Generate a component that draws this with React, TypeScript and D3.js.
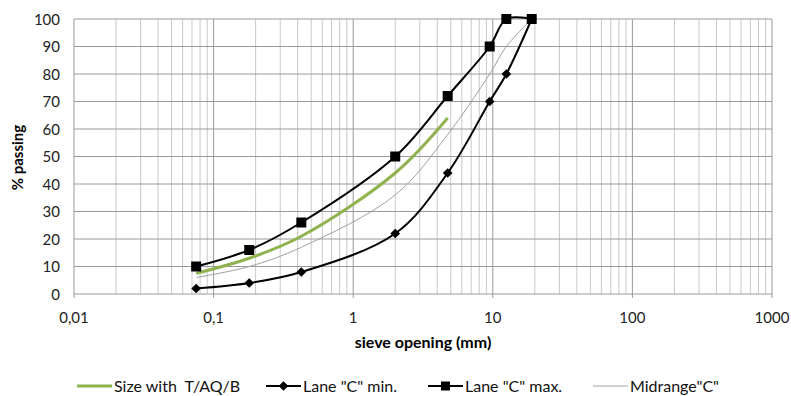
import React, { useEffect, useRef } from 'react';
import * as d3 from 'd3';

// sieve sizes (mm)
const sieves = [0.075, 0.18, 0.425, 2, 4.75, 9.5, 12.5, 19];
const laneMax = [10, 16, 26, 50, 72, 90, 100, 100];
const laneMin = [2, 4, 8, 22, 44, 70, 80, 100];
const midrange = [6, 10, 17, 36, 58, 80, 90, 100];
const sizeSieves = [0.075, 0.18, 0.425, 2, 4.75];
const sizeTAQB = [7.5, 13, 21, 44, 64];
const xTicks = [0.01, 0.1, 1, 10, 100, 1000];
const yTicks = [0, 10, 20, 30, 40, 50, 60, 70, 80, 90, 100];

const FONT = 'Lato, "Open Sans", sans-serif';

const App = () => {
  const ref = useRef<SVGSVGElement | null>(null);

  useEffect(() => {
    const width = 791;
    const height = 396;
    const left = 74, right = 772, top = 19, bottom = 294;
    const svg = d3.select(ref.current);
    svg.selectAll('*').remove();

    const x = d3.scaleLog().domain([0.01, 1000]).range([left, right]);
    const y = d3.scaleLinear().domain([0, 100]).range([bottom, top]);

    // minor vertical grid
    const minors: number[] = [];
    for (let e = -2; e < 3; e++) {
      for (let m = 2; m <= 9; m++) minors.push(m * Math.pow(10, e));
    }
    svg.append('g').selectAll('line').data(minors).enter().append('line')
      .attr('x1', d => x(d)).attr('x2', d => x(d))
      .attr('y1', top).attr('y2', bottom)
      .attr('stroke', '#c8c8c8').attr('stroke-width', 1);

    svg.append('g').selectAll('line').data(xTicks).enter().append('line')
      .attr('x1', d => x(d)).attr('x2', d => x(d))
      .attr('y1', top).attr('y2', bottom + 4)
      .attr('stroke', '#9a9a9a').attr('stroke-width', 1);

    svg.append('g').selectAll('line').data(yTicks).enter().append('line')
      .attr('x1', left).attr('x2', right)
      .attr('y1', d => y(d)).attr('y2', d => y(d))
      .attr('stroke', '#9a9a9a').attr('stroke-width', 1);

    // tick labels
    svg.append('g').selectAll('text').data(yTicks).enter().append('text')
      .attr('x', left - 14).attr('y', d => y(d) + 5.5)
      .attr('text-anchor', 'end')
      .style('font-family', FONT).style('font-size', '15px').attr('fill', '#222')
      .text(d => d);

    svg.append('g').selectAll('text').data(xTicks).enter().append('text')
      .attr('x', d => x(d)).attr('y', bottom + 29)
      .attr('text-anchor', 'middle')
      .style('font-family', FONT).style('font-size', '15px').attr('fill', '#222')
      .text(d => String(d).replace('.', ','));

    svg.append('text')
      .attr('x', 423).attr('y', 348)
      .attr('text-anchor', 'middle')
      .style('font-family', FONT).style('font-size', '16px').style('font-weight', 'bold')
      .text('sieve opening (mm)');

    svg.append('text')
      .attr('transform', `translate(23,${(top + bottom) / 2 + 1}) rotate(-90)`)
      .attr('text-anchor', 'middle')
      .style('font-family', FONT).style('font-size', '15px').style('font-weight', 'bold')
      .text('% passing');

    const line = d3.line<[number, number]>()
      .x(d => x(d[0])).y(d => y(d[1]))
      .curve(d3.curveCatmullRom.alpha(0.5));

    const zip = (xs: number[], ys: number[]) => xs.map((v, i) => [v, ys[i]] as [number, number]);

    svg.append('path').attr('d', line(zip(sieves, midrange)))
      .attr('fill', 'none').attr('stroke', '#a0a0a0').attr('stroke-width', 1);
    svg.append('path').attr('d', line(zip(sizeSieves, sizeTAQB)))
      .attr('fill', 'none').attr('stroke', '#8fb24f').attr('stroke-width', 3);
    svg.append('path').attr('d', line(zip(sieves, laneMin)))
      .attr('fill', 'none').attr('stroke', '#000').attr('stroke-width', 2);
    svg.append('path').attr('d', line(zip(sieves, laneMax)))
      .attr('fill', 'none').attr('stroke', '#000').attr('stroke-width', 2);

    const diamond = d3.symbol().type(d3.symbolDiamond2).size(60);
    svg.append('g').selectAll('path').data(zip(sieves, laneMin)).enter().append('path')
      .attr('d', diamond)
      .attr('transform', d => `translate(${x(d[0])},${y(d[1])})`)
      .attr('fill', '#000');

    svg.append('g').selectAll('rect').data(zip(sieves, laneMax)).enter().append('rect')
      .attr('x', d => x(d[0]) - 5).attr('y', d => y(d[1]) - 5)
      .attr('width', 10).attr('height', 10).attr('fill', '#000');

    // legend
    const ly = 386;
    const legend = svg.append('g');
    const item = (x0: number, label: string, color: string, w: number, marker: string | null) => {
      legend.append('line').attr('x1', x0).attr('x2', x0 + 35).attr('y1', ly).attr('y2', ly)
        .attr('stroke', color).attr('stroke-width', w);
      if (marker === 'diamond') {
        legend.append('path').attr('d', diamond).attr('transform', `translate(${x0 + 17.5},${ly})`).attr('fill', '#000');
      } else if (marker === 'square') {
        legend.append('rect').attr('x', x0 + 13).attr('y', ly - 4.5).attr('width', 9).attr('height', 9).attr('fill', '#000');
      }
      legend.append('text').attr('x', x0 + 37).attr('y', ly + 6)
        .style('font-family', FONT).style('font-size', '16px').attr('fill', '#111')
        .style('white-space', 'pre')
        .text(label);
    };
    item(77, 'Size with  T/AQ/B', '#8fb24f', 3, null);
    item(266, 'Lane "C" min.', '#000', 2, 'diamond');
    item(428, 'Lane "C" max.', '#000', 2, 'square');
    item(593, 'Midrange"C"', '#a0a0a0', 1, null);

    svg.attr('width', width).attr('height', height);
  }, []);

  return (
    <div style={{ position: 'absolute', left: 0, top: 0 }}>
      <svg ref={ref} width={791} height={396} style={{ display: 'block', background: '#fff' }} />
    </div>
  );
};

export default App;
